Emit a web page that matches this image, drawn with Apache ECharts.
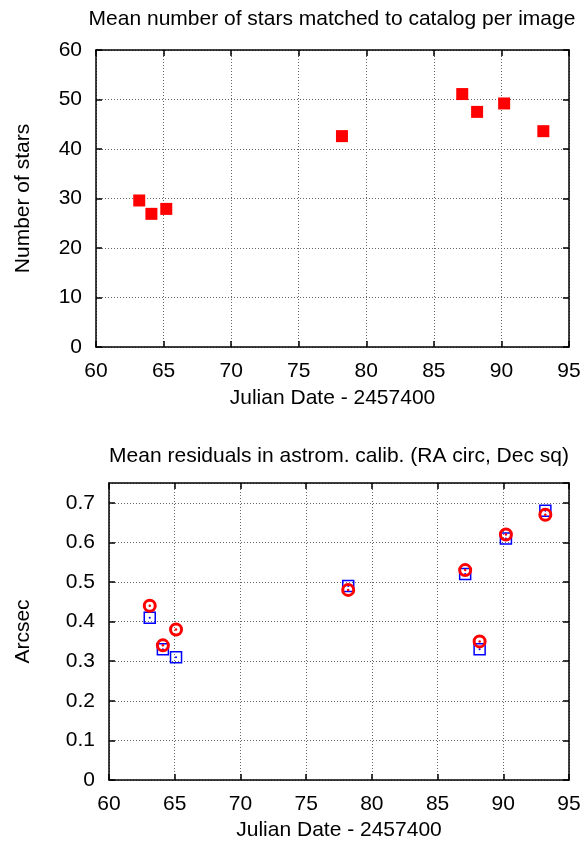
<!DOCTYPE html>
<html>
	<head>
		<meta charset="UTF-8">
		<script src="https://cdn.jsdelivr.net/npm/echarts@6/dist/echarts.min.js"></script>
		<title></title>
		<style>
			html,body{margin:0;padding:0;background:#fff;}
		</style>
	</head>
	<body>
		<div id="main" style="width:585px;height:844px;"></div>
	</body>
	<script>
		// top panel: stars matched per image
		var jdStars = [63.2, 64.1, 65.2, 78.2, 87.1, 88.2, 90.2, 93.1];
		var nStars = [29.6, 26.9, 27.9, 42.6, 51.1, 47.5, 49.2, 43.6];
		// bottom panel: residuals (RA circles, Dec squares)
		var jdResid = [63.1, 64.1, 65.1, 78.2, 87.1, 88.2, 90.2, 93.2];
		var raResid = [0.44, 0.34, 0.38, 0.48, 0.53, 0.35, 0.62, 0.67];
		var decResid = [0.41, 0.33, 0.31, 0.49, 0.52, 0.33, 0.61, 0.68];

		var FONT = 'Liberation Sans';
		var FS = 21;

		function pairs(xs, ys){
			var out = [];
			for(var i=0;i<xs.length;i++){
				out.push([xs[i], ys[i]]);
			}
			return out;
		}

		var lineStyle = {color:'#000', width:1.5};
		var gridLine = {show:true, lineStyle:{color:'#666', type:[1,2], width:1}};
		var labelStyle = {color:'#000', fontFamily:FONT, fontSize:FS};

		function mainX(gi, gap){
			return {
				gridIndex:gi, type:'value', min:60, max:95, interval:5, position:'bottom',
				axisLine:{show:true, onZero:false, lineStyle:lineStyle},
				axisTick:{show:true, inside:true, length:6, lineStyle:lineStyle},
				axisLabel:Object.assign({margin:14}, labelStyle),
				splitLine:gridLine,
				name:'Julian Date - 2457400', nameLocation:'middle', nameGap:gap,
				nameTextStyle:{color:'#000', fontFamily:FONT, fontSize:FS}
			};
		}
		function mirrorX(gi){
			return {
				gridIndex:gi, type:'value', min:60, max:95, interval:5, position:'top',
				axisLine:{show:true, onZero:false, lineStyle:lineStyle},
				axisTick:{show:true, inside:true, length:6, lineStyle:lineStyle},
				axisLabel:{show:false}, splitLine:{show:false}
			};
		}
		function mainY(gi, max, step, name, gap){
			return {
				gridIndex:gi, type:'value', min:0, max:max, interval:step, position:'left',
				axisLine:{show:true, onZero:false, lineStyle:lineStyle},
				axisTick:{show:true, inside:true, length:6, lineStyle:lineStyle},
				axisLabel:Object.assign({margin:14, showMaxLabel: max % step === 0 ? true : false}, labelStyle),
				splitLine:gridLine,
				name:name, nameLocation:'middle', nameGap:gap, nameRotate:90,
				nameTextStyle:{color:'#000', fontFamily:FONT, fontSize:FS}
			};
		}
		function mirrorY(gi, max, step){
			return {
				gridIndex:gi, type:'value', min:0, max:max, interval:step, position:'right',
				axisLine:{show:true, onZero:false, lineStyle:lineStyle},
				axisTick:{show:true, inside:true, length:6, lineStyle:lineStyle},
				axisLabel:{show:false}, splitLine:{show:false}
			};
		}

		var myChart = echarts.init(document.getElementById('main'));
		myChart.setOption({
			animation:false,
			backgroundColor:'#fff',
			graphic:[
				{type:'text', x:332, y:19, style:{text:'Mean number of stars matched to catalog per image', textAlign:'center', textVerticalAlign:'middle', fill:'#000', font:FS+'px "'+FONT+'"'}},
				{type:'text', x:339, y:456, style:{text:'Mean residuals in astrom. calib. (RA circ, Dec sq)', textAlign:'center', textVerticalAlign:'middle', fill:'#000', font:FS+'px "'+FONT+'"'}}
			],
			grid:[
				{left:96, right:16, top:50, height:297},
				{left:109, right:16, top:483, height:297}
			],
			xAxis:[mainX(0, 41), mirrorX(0), mainX(1, 40), mirrorX(1)],
			yAxis:[
				mainY(0, 60, 10, 'Number of stars', 62),
				mirrorY(0, 60, 10),
				mainY(1, 0.75, 0.1, 'Arcsec', 75),
				mirrorY(1, 0.75, 0.1)
			],
			series:[
				{
					name:'stars', type:'scatter', xAxisIndex:0, yAxisIndex:0,
					symbol:'rect', symbolSize:12,
					itemStyle:{color:'#ff0000', opacity:1},
					data:pairs(jdStars, nStars)
				},
				{
					name:'Dec', type:'scatter', xAxisIndex:2, yAxisIndex:2,
					symbol:'rect', symbolSize:11,
					itemStyle:{color:'rgba(0,0,0,0)', borderColor:'#0000ff', borderWidth:1.5, opacity:1},
					data:pairs(jdResid, decResid)
				},
				{
					name:'DecDot', type:'scatter', xAxisIndex:2, yAxisIndex:2,
					symbol:'circle', symbolSize:2,
					itemStyle:{color:'#0000ff', opacity:1},
					data:pairs(jdResid, decResid)
				},
				{
					name:'RA', type:'scatter', xAxisIndex:2, yAxisIndex:2,
					symbol:'circle', symbolSize:11,
					itemStyle:{color:'rgba(0,0,0,0)', borderColor:'#ff0000', borderWidth:3, opacity:1},
					data:pairs(jdResid, raResid)
				},
				{
					name:'RADot', type:'scatter', xAxisIndex:2, yAxisIndex:2,
					symbol:'circle', symbolSize:2.5,
					itemStyle:{color:'#ff0000', opacity:1},
					data:pairs(jdResid, raResid)
				}
			]
		});
	</script>
</html>
